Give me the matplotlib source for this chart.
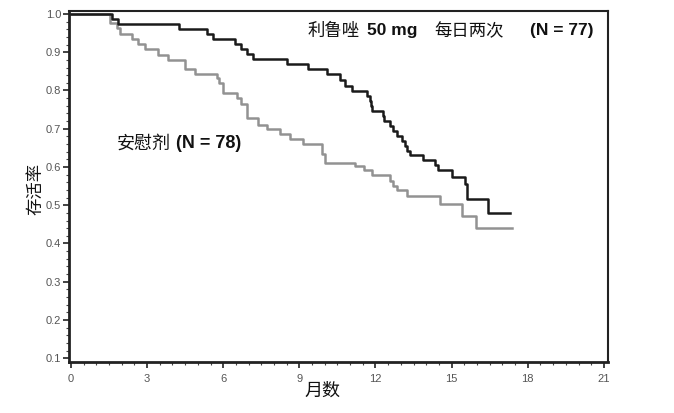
import matplotlib
matplotlib.use('Agg')
import matplotlib.pyplot as plt
from matplotlib.ticker import MultipleLocator

# Kaplan-Meier steps (months, survival)
rilu_t = [0, 1.6, 1.85, 4.26, 5.35, 5.58, 6.46, 6.72, 6.92, 7.16, 8.5, 9.35, 10.07,
          10.6, 10.8, 11.06, 11.65, 11.78, 11.82, 11.86, 12.3, 12.35, 12.57, 12.7,
          12.83, 13.03, 13.16, 13.25, 13.36, 13.88, 14.34, 14.47, 15.0, 15.52,
          15.59, 16.45, 17.3]
rilu_s = [1.0, 0.986, 0.974, 0.961, 0.948, 0.935, 0.922, 0.909, 0.896, 0.883, 0.870,
          0.857, 0.842, 0.827, 0.812, 0.799, 0.786, 0.773, 0.760, 0.747, 0.734,
          0.721, 0.708, 0.695, 0.682, 0.669, 0.656, 0.643, 0.630, 0.617, 0.604,
          0.591, 0.574, 0.555, 0.515, 0.480, 0.480]

placebo_t = [0, 1.54, 1.82, 1.93, 2.39, 2.65, 2.92, 3.44, 3.83, 4.49, 4.89, 5.74, 5.84,
             6.0, 6.53, 6.72, 6.92, 7.38, 7.71, 8.23, 8.63, 9.15, 9.88, 10.0, 11.19,
             11.55, 11.85, 12.57, 12.7, 12.83, 13.23, 14.54, 15.39, 15.98, 17.36]
placebo_s = [1.0, 0.977, 0.964, 0.947, 0.935, 0.922, 0.909, 0.894, 0.879, 0.855, 0.842,
             0.833, 0.820, 0.793, 0.781, 0.764, 0.729, 0.711, 0.698, 0.685, 0.672,
             0.659, 0.633, 0.611, 0.602, 0.591, 0.578, 0.563, 0.550, 0.541, 0.524,
             0.502, 0.471, 0.441, 0.441]

x_ticks = [0, 3, 6, 9, 12, 15, 18, 21]
y_ticks = [0.1, 0.2, 0.3, 0.4, 0.5, 0.6, 0.7, 0.8, 0.9, 1.0]

CJK = 'Noto Sans CJK SC'
LAT = 'Liberation Sans'

fig = plt.figure(figsize=(6.74, 4.13), dpi=100)
ax = fig.add_axes([0.103, 0.1235, 0.799, 0.85])

ax.step(placebo_t, placebo_s, where='post', color='#929292', lw=1.8, clip_on=False)
ax.step(rilu_t, rilu_s, where='post', color='#1a1a1a', lw=1.8, clip_on=False)

ax.set_xlim(-0.06, 21.16)
ax.set_ylim(0.09, 1.008)
ax.set_xticks(x_ticks)
ax.set_yticks(y_ticks)
ax.set_xticklabels([str(v) for v in x_ticks])
ax.set_yticklabels(['%.1f' % v for v in y_ticks])
ax.xaxis.set_minor_locator(MultipleLocator(0.5))
ax.yaxis.set_minor_locator(MultipleLocator(0.02))
ax.tick_params(which='major', direction='out', length=4, width=1.2, color='#222',
               labelsize=8, labelcolor='#555', pad=2)
ax.tick_params(which='minor', direction='out', length=2, width=0.8, color='#444')
for lab in ax.get_xticklabels() + ax.get_yticklabels():
    lab.set_family(LAT)
ax.tick_params(axis='x', pad=5)

for side in ['left', 'bottom']:
    ax.spines[side].set_linewidth(2.0)
    ax.spines[side].set_color('#222')
for side in ['top', 'right']:
    ax.spines[side].set_linewidth(1.5)
    ax.spines[side].set_color('#222')

# annotations: Chinese in CJK font, numbers bold sans
ax.text(0.443, 0.943, '利鲁唑', transform=ax.transAxes, family=CJK, fontsize=12.5,
        va='center', ha='left', color='#111')
ax.text(0.552, 0.943, '50 mg', transform=ax.transAxes, family=LAT, fontsize=12.5,
        weight='bold', va='center', ha='left', color='#111')
ax.text(0.677, 0.943, '每日两次', transform=ax.transAxes, family=CJK, fontsize=12.5,
        va='center', ha='left', color='#111')
ax.text(0.855, 0.943, '(N = 77)', transform=ax.transAxes, family=LAT, fontsize=12.5,
        weight='bold', va='center', ha='left', color='#111')

ax.text(0.088, 0.623, '安慰剂', transform=ax.transAxes, family=CJK, fontsize=13,
        va='center', ha='left', color='#111')
ax.text(0.198, 0.623, '(N = 78)', transform=ax.transAxes, family=LAT, fontsize=13,
        weight='bold', va='center', ha='left', color='#111')

fig.text(35 / 674, 1 - 189 / 413, '存活率', family=CJK, fontsize=12.5, rotation=90,
         va='center', ha='center', color='#111')
fig.text(322 / 674, 1 - 391 / 413, '月数', family=CJK, fontsize=13,
         va='center', ha='center', color='#111')

fig.savefig('out.png', dpi=100)
